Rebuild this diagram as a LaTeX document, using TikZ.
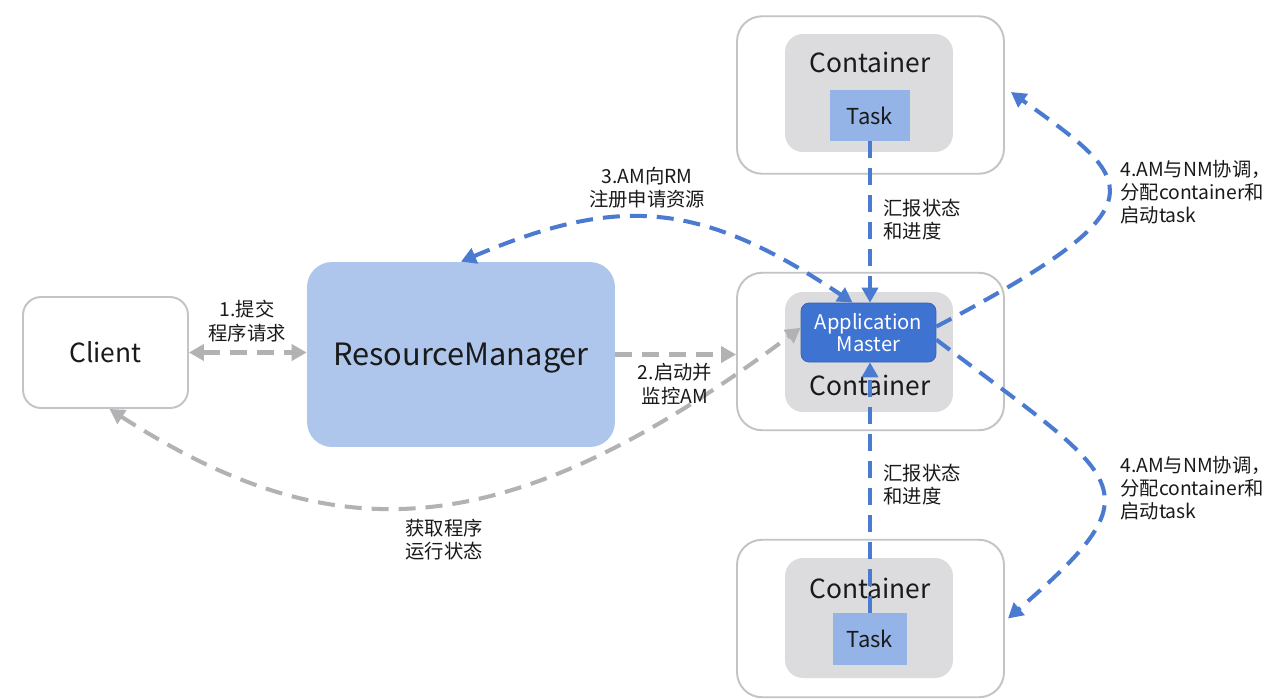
\documentclass[tikz,border=0pt]{standalone}
\usepackage{fontspec}
\setmainfont{Noto Sans CJK SC}
\usetikzlibrary{arrows.meta}
\definecolor{nmgray}{HTML}{C4C4C8}
\definecolor{contgray}{HTML}{DCDCDF}
\definecolor{rmblue}{HTML}{AEC6EB}
\definecolor{taskblue}{HTML}{94B3E6}
\definecolor{amblue}{HTML}{3F73D2}
\definecolor{lineblue}{HTML}{4A7BD0}
\definecolor{linegray}{HTML}{B2B2B4}
\definecolor{textc}{HTML}{1A1A1A}
\begin{document}
\begin{tikzpicture}[x=0.02cm,y=-0.02cm,
  nmbox/.style={draw=nmgray, line width=1.1pt, rounded corners=0.5cm, fill=white, minimum width=5.34cm, minimum height=3.15cm},
  contbox/.style={draw=none, fill=contgray, rounded corners=0.36cm, minimum width=3.36cm},
  taskbox/.style={draw=none, fill=taskblue, font=\fontsize{12.5}{14}\selectfont, text=textc, inner sep=0},
  bigtext/.style={font=\fontsize{15}{18}\selectfont, text=textc},
  lbl/.style={font=\fontsize{11}{13.2}\selectfont, text=textc, align=center, inner sep=0},
  lbll/.style={font=\fontsize{11}{13.2}\selectfont, text=textc, align=left, inner sep=0, anchor=west},
  tip/.style={Triangle[length=0.3cm,width=0.32cm]},
  bluearrow/.style={draw=lineblue, line width=2.3pt, dash pattern=on 0.34cm off 0.2cm, -{Triangle[length=0.3cm,width=0.32cm]}},
  bluearrows/.style={draw=lineblue, line width=2.3pt, dash pattern=on 0.34cm off 0.2cm, {Triangle[length=0.3cm,width=0.32cm]}-{Triangle[length=0.3cm,width=0.32cm]}},
  grayarrow/.style={draw=linegray, line width=2.3pt, dash pattern=on 0.34cm off 0.2cm, -{Triangle[length=0.3cm,width=0.32cm]}},
  grayarrows/.style={draw=linegray, line width=2.3pt, dash pattern=on 0.34cm off 0.2cm, {Triangle[length=0.3cm,width=0.32cm]}-{Triangle[length=0.3cm,width=0.32cm]}}
]
\useasboundingbox (0,0) rectangle (1286,698);
\fill[white] (0,0) rectangle (1286,698);

% Client and ResourceManager
\node[draw=nmgray, line width=1.1pt, rounded corners=0.36cm, minimum width=3.3cm, minimum height=2.22cm, bigtext] (client) at (105.5,352.5) {Client};
\node[fill=rmblue, rounded corners=0.5cm, minimum width=6.16cm, minimum height=3.7cm, text depth=0pt, font=\fontsize{17.5}{20}\selectfont, text=textc] (rm) at (461,354.5) {ResourceManager};

% NodeManager boxes
\node[nmbox] (nm1) at (870.5,95) {};
\node[nmbox] (nm2) at (870.5,351.5) {};
\node[nmbox] (nm3) at (870.5,618.5) {};

% containers
\node[contbox, minimum height=2.36cm] (c1) at (869,93) {};
\node[contbox, minimum height=2.4cm] (c2) at (869,352) {};
\node[contbox, minimum height=2.4cm] (c3) at (869,618) {};

\node[bigtext] (c1t) at (870,62) {Container};
\node[bigtext] (c2t) at (870,385) {Container};
\node[bigtext] (c3t) at (870,588) {Container};

\node[taskbox, minimum width=1.6cm, minimum height=1.02cm] (task1) at (870,115.5) {Task};
\node[taskbox, minimum width=1.48cm, minimum height=1.04cm] (task3) at (870,639) {Task};

\node[fill=amblue, draw=amblue!85!black, line width=0.4pt, rounded corners=0.16cm, minimum width=2.7cm, minimum height=1.18cm, text=white, align=center, inner sep=0, font=\fontsize{11.5}{13}\selectfont] (am) at (868.5,332.5) {Application\\Master};

% connectors
\draw[grayarrows] (client.east) -- (client.east -| rm.west);
\draw[grayarrow] (rm.east) -- (rm.east -| nm2.west);
\draw[grayarrows] (client.274) .. controls (336,555) and (508,546) .. (am.176);
\draw[bluearrows] (rm.north) .. controls (618,195) and (700,200) .. (am.118);
\draw[bluearrow] (task1.south) -- (task1.south |- am.north);
\draw[bluearrow] (task3.north) -- (task3.north |- am.south);
\draw[bluearrow] (am.5) .. controls (1170,204) and (1135,181) .. ([shift={(0.12cm,0.06cm)}]nm1.east);
\draw[bluearrow] (am.-6) .. controls (1124,482) and (1160,487) .. ([xshift=0.06cm]nm3.east);

% labels
\node[lbl] (l1) at (247,321) {1.提交\\程序请求};
\node[lbl] (l2) at (675,384) {2.启动并\\监控AM};
\node[lbl] (l3) at (647,188) {3.AM向RM\\注册申请资源};
\node[lbl] (l5) at (444,540) {获取程序\\运行状态};
\node[lbll] (r1) at (883,220) {汇报状态\\和进度};
\node[lbll] (r2) at (883,485) {汇报状态\\和进度};
\node[lbll] (a1) at (1120,192) {4.AM与NM协调，\\分配container和\\启动task};
\node[lbll] (a2) at (1120,488) {4.AM与NM协调，\\分配container和\\启动task};
\end{tikzpicture}
\end{document}
